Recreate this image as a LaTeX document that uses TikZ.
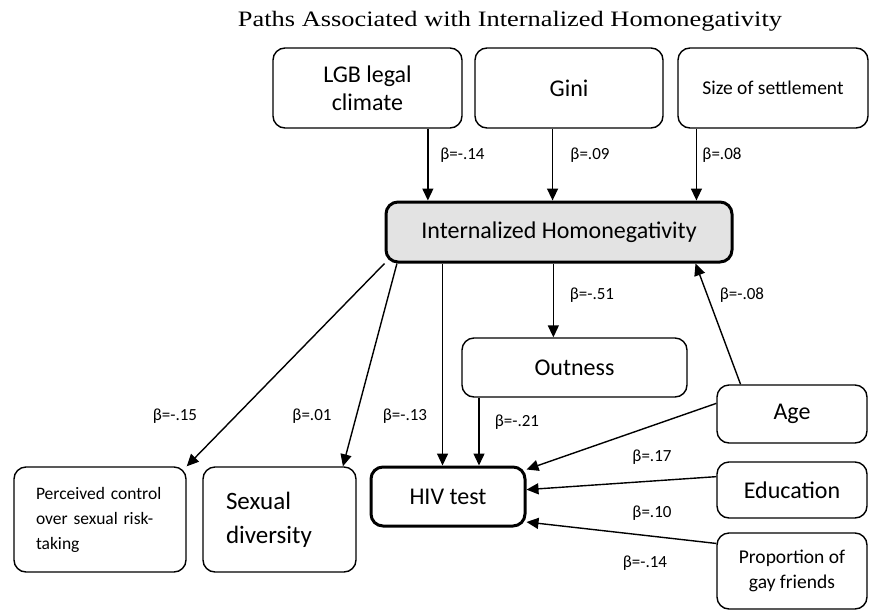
\documentclass[tikz,border=0pt]{standalone}
\usepackage{fontspec}
\setmainfont{Carlito}
\newfontfamily\titlefont{Liberation Serif}
\usepackage{tikz}
\usetikzlibrary{arrows.meta}
\definecolor{cIH}{RGB}{227,227,227}
\newcommand\bigtxt{\fontsize{24}{28}\selectfont}
\newcommand\midtxt{\fontsize{19.5}{25}\selectfont}
\newcommand\smalltxt{\fontsize{17.5}{25}\selectfont}

\begin{document}
\begin{tikzpicture}[x=1pt,y=-1pt,
  box/.style={draw,rounded corners=12pt,line width=1.4pt,align=center,inner sep=0pt},
  arr/.style={line width=1.4pt,-{Triangle[length=12pt,width=11pt]}},
  beta/.style={font=\fontsize{17}{20}\selectfont}]
  \useasboundingbox (0,0) rectangle (873,611);
  \node[font=\titlefont\fontsize{22}{24}\selectfont,xscale=1.2] (title) at (510,21)
    {Paths Associated with Internalized Homonegativity};
  % predictors of internalized homonegativity
  \node[box,minimum width=189pt,minimum height=80pt,font=\bigtxt] (lgb) at (367.5,88) {LGB legal\\climate};
  \node[box,minimum width=188pt,minimum height=80pt,font=\bigtxt] (gini) at (569,88) {Gini};
  \node[box,minimum width=190pt,minimum height=80pt,font=\midtxt] (size) at (773,88) {Size of settlement};
  \node[box,fill=cIH,line width=3pt,minimum width=346pt,minimum height=60pt,font=\bigtxt] (ih) at (559,232) {Internalized Homonegativity};
  \node[box,minimum width=225pt,minimum height=59pt,font=\bigtxt] (outness) at (574.5,367.5) {Outness};
  % outcomes
  \node[box,line width=3pt,minimum width=154pt,minimum height=59pt,font=\bigtxt] (hiv) at (448,496.5) {HIV test};
  \node[box,align=left,text width=107pt,inner xsep=23pt,minimum height=105pt,font=\fontsize{25}{34}\selectfont] (sexdiv) at (279.5,519.5) {Sexual\\diversity};
  \node[box,align=left,text width=128pt,inner xsep=22pt,minimum height=105pt,font=\smalltxt] (perc) at (100,519.5) {Perceived control\\over sexual risk-\\taking};
  % covariates
  \node[box,minimum width=150pt,minimum height=58pt,font=\bigtxt] (age) at (792,414) {Age};
  \node[box,minimum width=150pt,minimum height=56pt,font=\bigtxt] (edu) at (792,490) {Education};
  \node[box,minimum width=150pt,minimum height=76pt,font=\midtxt] (prop) at (792,571) {Proportion of\\gay friends};

  \draw[arr] (lgb.326) -- (lgb.326 |- ih.north);
  \draw[arr] (gini.248) -- (gini.248 |- ih.north);
  \draw[arr] (size.208) -- (size.208 |- ih.north);
  \draw[arr] (outness.125 |- ih.south) -- (outness.125);
  \draw[arr] (hiv.100 |- ih.south) -- (hiv.100);
  \draw[arr] (hiv.45 |- outness.south) -- (hiv.45);
  \draw[arr] (ih.south west) -- (perc.north east);
  \draw[arr] (ih.191) -- (sexdiv.40);
  \draw[arr] (age.150) -- (ih.347);
  \draw[arr] (age.172) -- (hiv.19);
  \draw[arr] (edu.170) -- (hiv.5);
  \draw[arr] (prop.160) -- (hiv.342);

  \node[beta] (b1) at (462.5,155) {β=-.14};
  \node[beta] (b2) at (590,155) {β=.09};
  \node[beta] (b3) at (722,155) {β=.08};
  \node[beta] (b4) at (592,295) {β=-.51};
  \node[beta] (b5) at (742,295) {β=-.08};
  \node[beta] (b6) at (175,416) {β=-.15};
  \node[beta] (b7) at (312,416) {β=.01};
  \node[beta] (b8) at (405,416) {β=-.13};
  \node[beta] (b9) at (517,422) {β=-.21};
  \node[beta] (b10) at (652,457) {β=.17};
  \node[beta] (b11) at (652,513) {β=.10};
  \node[beta] (b12) at (645,563) {β=-.14};
\end{tikzpicture}
\end{document}
